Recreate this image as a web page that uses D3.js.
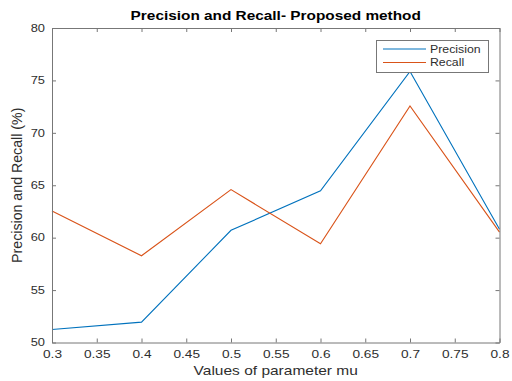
<!DOCTYPE html>
<html>
<head>
<meta charset="utf-8">
<script src="https://cdn.jsdelivr.net/npm/d3@7"></script>
<style>
  html, body { margin: 0; padding: 0; background: #fff; }
  svg { display: block; font-family: "Liberation Sans", Arial, Helvetica, sans-serif; }
</style>
</head>
<body>
<svg id="chart" width="512" height="381"></svg>
<script>
// Parameter values and measured scores (%)
const mu = [0.3, 0.4, 0.5, 0.6, 0.7, 0.8];
const precision = [51.24, 51.94, 60.70, 64.47, 75.85, 60.80];
const recall = [62.54, 58.27, 64.58, 59.42, 72.57, 60.53];
const xTicks = [0.3, 0.35, 0.4, 0.45, 0.5, 0.55, 0.6, 0.65, 0.7, 0.75, 0.8];
const yTicks = [50, 55, 60, 65, 70, 75, 80];
const seriesNames = ["Precision", "Recall"];

const svg = d3.select("#chart");
const m = { left: 52, right: 499.5, top: 28, bottom: 342.5 };
const axisColor = "#777";
const textColor = "#2e2e2e";

const x = d3.scaleLinear().domain([0.3, 0.8]).range([m.left, m.right]);
const y = d3.scaleLinear().domain([50, 80]).range([m.bottom, m.top]);

const series = [
  { name: seriesNames[0], values: precision, color: "#0072BD" },
  { name: seriesNames[1], values: recall, color: "#D95319" }
];

// widen text horizontally about its own anchor x
function widen(sel, sx) {
  sel.each(function () {
    const t = d3.select(this);
    const x0 = +(t.attr("x") || 0);
    t.attr("x", x0 / sx).attr("transform", `scale(${sx},1)`);
  });
}

// lines
const line = d3.line().x((d, i) => x(mu[i])).y(d => y(d));
series.forEach(s => {
  svg.append("path")
    .datum(s.values)
    .attr("d", line)
    .attr("fill", "none")
    .attr("stroke", s.color)
    .attr("stroke-width", 1.1);
});

// axes (box with inward ticks)
const tickLen = 4;
const fmtX = d => String(+d.toFixed(2));
const axBottom = svg.append("g").attr("transform", `translate(0,${m.bottom})`)
  .call(d3.axisBottom(x).tickValues(xTicks).tickSizeInner(-tickLen).tickSizeOuter(0).tickPadding(8).tickFormat(fmtX));
const axTop = svg.append("g").attr("transform", `translate(0,${m.top})`)
  .call(d3.axisTop(x).tickValues(xTicks).tickSizeInner(-tickLen).tickSizeOuter(0).tickFormat(""));
const axLeft = svg.append("g").attr("transform", `translate(${m.left},0)`)
  .call(d3.axisLeft(y).tickValues(yTicks).tickSizeInner(-tickLen).tickSizeOuter(0).tickPadding(7));
const axRight = svg.append("g").attr("transform", `translate(${m.right},0)`)
  .call(d3.axisRight(y).tickValues(yTicks).tickSizeInner(-tickLen).tickSizeOuter(0).tickFormat(""));

[axBottom, axTop, axLeft, axRight].forEach(g => {
  g.selectAll("path.domain").attr("stroke", axisColor).attr("stroke-width", 1);
  g.selectAll(".tick line").attr("stroke", axisColor);
  g.selectAll("text").attr("fill", textColor).style("font-size", "10.3px")
    .style("font-family", "'Liberation Sans', Arial, sans-serif");
});
widen(axBottom.selectAll("text"), 1.33);
widen(axLeft.selectAll("text"), 1.25);

// title and axis labels
const cx = (m.left + m.right) / 2;
svg.append("text")
  .attr("x", cx).attr("y", 20)
  .attr("text-anchor", "middle")
  .style("font-size", "12.5px").style("font-weight", "bold")
  .attr("fill", "#000")
  .text("Precision and Recall- Proposed method")
  .call(widen, 1.23);

svg.append("text")
  .attr("x", cx).attr("y", 375)
  .attr("text-anchor", "middle")
  .style("font-size", "12.5px")
  .attr("fill", textColor)
  .text("Values of parameter mu")
  .call(widen, 1.24);

svg.append("text")
  .attr("transform", `translate(21.5,${(m.top + m.bottom) / 2}) rotate(-90)`)
  .attr("text-anchor", "middle")
  .style("font-size", "14.2px")
  .attr("fill", textColor)
  .text("Precision and Recall (%)");

// legend
const lg = svg.append("g");
lg.append("rect")
  .attr("x", 376.5).attr("y", 40.5).attr("width", 112).attr("height", 32)
  .attr("fill", "#fff").attr("stroke", axisColor).attr("stroke-width", 1);
series.forEach((s, i) => {
  const ly = 49 + i * 13.5;
  lg.append("line")
    .attr("x1", 383).attr("x2", 426).attr("y1", ly).attr("y2", ly)
    .attr("stroke", s.color).attr("stroke-width", 1.1);
  lg.append("text")
    .attr("x", 430).attr("y", ly + 4)
    .style("font-size", "11px")
    .attr("fill", textColor)
    .text(s.name)
    .call(widen, 1.12);
});
</script>
</body>
</html>
